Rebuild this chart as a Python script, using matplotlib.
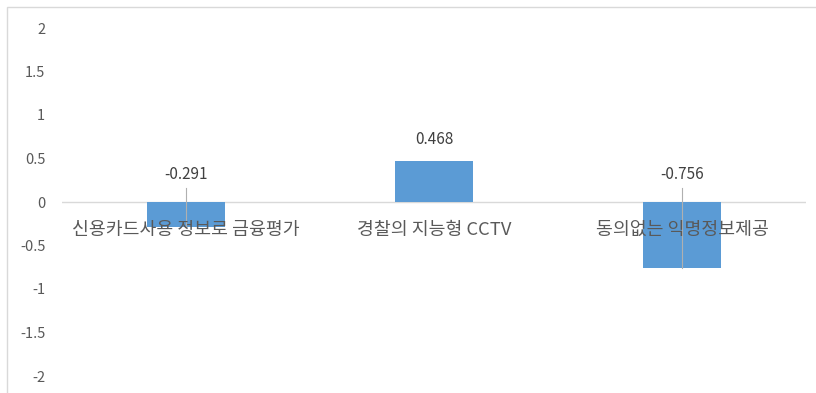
import matplotlib
matplotlib.use("Agg")
import matplotlib.pyplot as plt
from matplotlib.patches import Rectangle

plt.rcParams['font.family'] = ['Noto Sans CJK KR', 'DejaVu Sans']

categories = ["신용카드사용 정보로 금융평가", "경찰의 지능형 CCTV", "동의없는 익명정보제공"]
values = [-0.291, 0.468, -0.756]
value_labels = ["-0.291", "0.468", "-0.756"]
yticks = [2, 1.5, 1, 0.5, 0, -0.5, -1, -1.5, -2]
ytick_labels = ["2", "1.5", "1", "0.5", "0", "-0.5", "-1", "-1.5", "-2"]

W, H = 816, 393
fig = plt.figure(figsize=(W / 100, H / 100), dpi=100)
fig.patch.set_facecolor("white")

# chart border (partially visible top/left)
fig.add_artist(Rectangle((7 / W, -0.1), 1.2, (H - 7) / H + 0.1, transform=fig.transFigure,
                         fill=False, edgecolor="#d9d9d9", linewidth=1.0))

ax = fig.add_axes([62 / W, 17 / H, 744 / W, 348 / H])
ax.set_facecolor("none")
x = list(range(len(categories)))
ax.bar(x, values, width=0.315, color="#5B9BD5", zorder=2)
ax.axhline(0, color="#d9d9d9", linewidth=1.0, zorder=1)

ax.set_xlim(-0.5, 2.5)
ax.set_ylim(-2, 2)
ax.set_yticks(yticks)
ax.set_yticklabels(ytick_labels)
ax.set_xticks([])
for s in ax.spines.values():
    s.set_visible(False)
ax.tick_params(axis="y", length=0, pad=12, labelsize=10.5, labelcolor="#595959")

LEADER_TOP = 0.16
for xi, v, lab in zip(x, values, value_labels):
    top = max(v, 0)
    off = 16 if v > 0 else 19.5
    ax.annotate(lab, (xi, top), xytext=(0, off), textcoords="offset points",
                ha="center", va="center", fontsize=11, color="#404040", zorder=4)
    if v < 0:
        ax.plot([xi, xi], [v, LEADER_TOP], color="#b0b0b0", lw=0.8, zorder=3)

for xi, c in zip(x, categories):
    ax.annotate(c, (xi, 0), xytext=(0, -20), textcoords="offset points",
                ha="center", va="center", fontsize=13.2, color="#595959", zorder=5)

fig.savefig("out.png", dpi=100)
